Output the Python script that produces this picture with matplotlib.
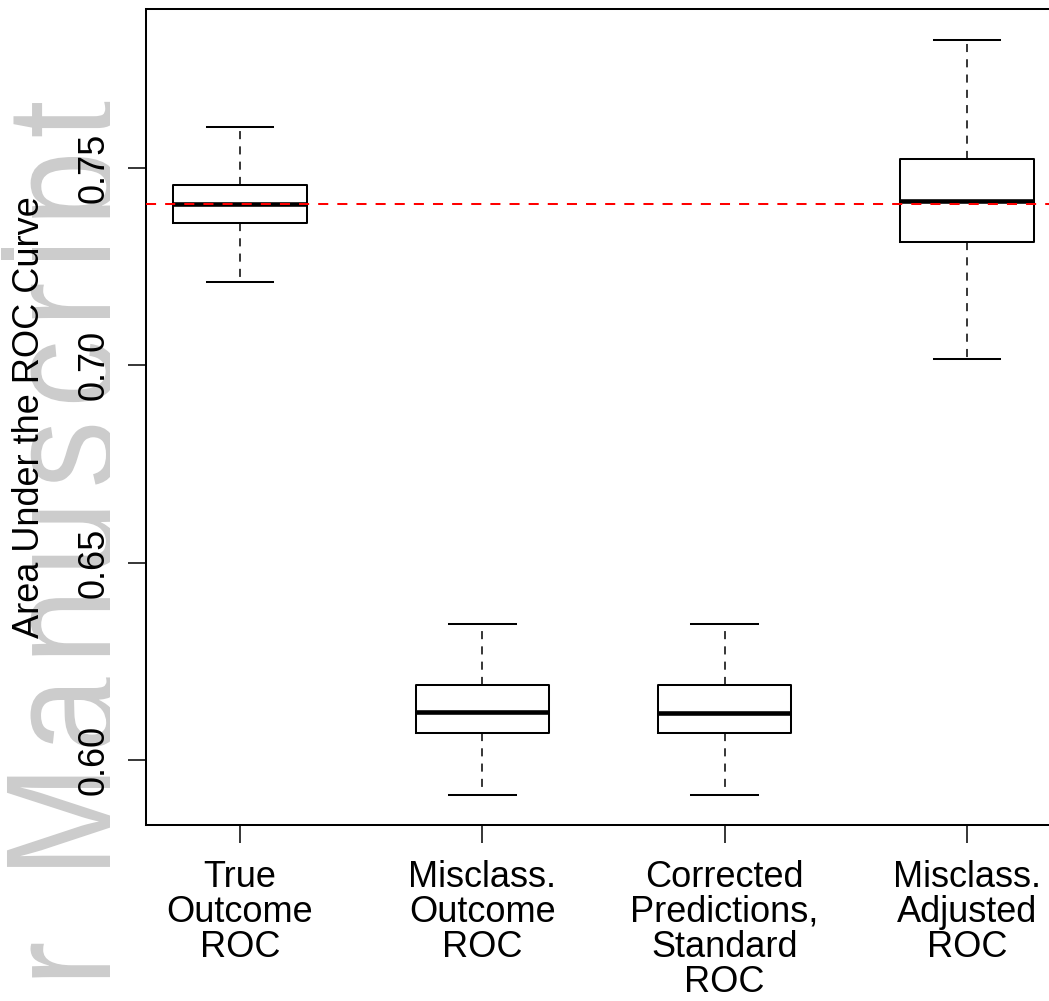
import matplotlib
matplotlib.use('Agg')
import matplotlib.pyplot as plt
from matplotlib.textpath import TextPath
from matplotlib.patches import PathPatch
from matplotlib.font_manager import FontProperties
from matplotlib.transforms import Affine2D, Bbox

plt.rcParams['font.family'] = ['Liberation Sans', 'DejaVu Sans']

# box statistics (AUC)
labels = ['True\nOutcome\nROC', 'Misclass.\nOutcome\nROC',
          'Corrected\nPredictions,\nStandard\nROC', 'Misclass.\nAdjusted\nROC']
whislo = [0.7211, 0.5911, 0.5911, 0.7016]
q1 = [0.7361, 0.6068, 0.6068, 0.7313]
med = [0.7409, 0.6122, 0.6120, 0.7416]
q3 = [0.7457, 0.6190, 0.6190, 0.7523]
whishi = [0.7604, 0.6344, 0.6344, 0.7824]
true_auc = 0.7409
yticks = [0.60, 0.65, 0.70, 0.75]

W, H = 1049, 1001
fig = plt.figure(figsize=(W / 100, H / 100), dpi=100)

# watermark "Author Manuscript": gray, rotated, letter-spaced, clipped at left margin
wm_text = 'Author Manuscript'
adv = {'A': .667, 'u': .556, 't': .278, 'h': .556, 'o': .556, 'r': .333, ' ': .278,
       'M': .833, 'a': .556, 'n': .556, 's': .5, 'c': .5, 'i': .222, 'p': .556}
sx, sy, track = 135, 157, 13      # px per em along / across text, extra spacing
xb = 115                           # baseline (px from left)
m_idx = wm_text.index('M')
m_off = sum(adv[c] for c in wm_text[:m_idx]) * sx + m_idx * track
y0 = (H - 868) - m_off - 0.074 * sx
fp = FontProperties(family='Liberation Sans')
clip = Bbox.from_extents(0, 0, 110, H)
pos = 0.0
for i, c in enumerate(wm_text):
    if c != ' ':
        tp = TextPath((0, 0), c, size=1, prop=fp)
        tr = Affine2D().scale(sx, sy).translate(pos * sx + i * track, 0) \
            .rotate_deg(90).translate(xb, y0)
        p = PathPatch(tp, transform=tr, facecolor='#cccccc', edgecolor='none',
                      zorder=-5)
        fig.add_artist(p)
        p.set_clip_box(clip)
    pos += adv[c]

ax = fig.add_axes([146 / W, 1 - 825 / H, 915 / W, 816 / H])

stats = []
for i in range(len(labels)):
    stats.append({'whislo': whislo[i], 'q1': q1[i], 'med': med[i],
                  'q3': q3[i], 'whishi': whishi[i], 'fliers': []})

ax.bxp(stats, positions=[1, 2, 3, 4], widths=0.55, showfliers=False,
       boxprops=dict(color='black', linewidth=1.45),
       medianprops=dict(color='black', linewidth=3.3, solid_capstyle='butt'),
       whiskerprops=dict(color='black', linewidth=1.1, dashes=(5.3, 4.7)),
       capprops=dict(color='black', linewidth=1.45), capwidths=0.275)

ax.axhline(true_auc, color='red', linewidth=1.45, dashes=(5, 4.5), zorder=5)

ax.set_xlim(0.612, 4.388)
ax.set_ylim(0.5835, 0.7903)
ax.set_yticks(yticks)
ax.set_yticklabels(['%.2f' % v for v in yticks], rotation=90, va='center')
ax.set_xticks([1, 2, 3, 4])
ax.set_xticklabels(labels, linespacing=1.0)

for s in ax.spines.values():
    s.set_linewidth(1.45)
ax.tick_params(axis='both', labelsize=26, length=13, width=1.1, direction='out')
ax.tick_params(axis='x', pad=12)
ax.tick_params(axis='y', pad=12)

fig.text(30 / W, 1 - 417 / H, 'Area Under the ROC Curve', rotation=90,
         ha='center', va='center', fontsize=26)

fig.savefig('out.png', dpi=100)
